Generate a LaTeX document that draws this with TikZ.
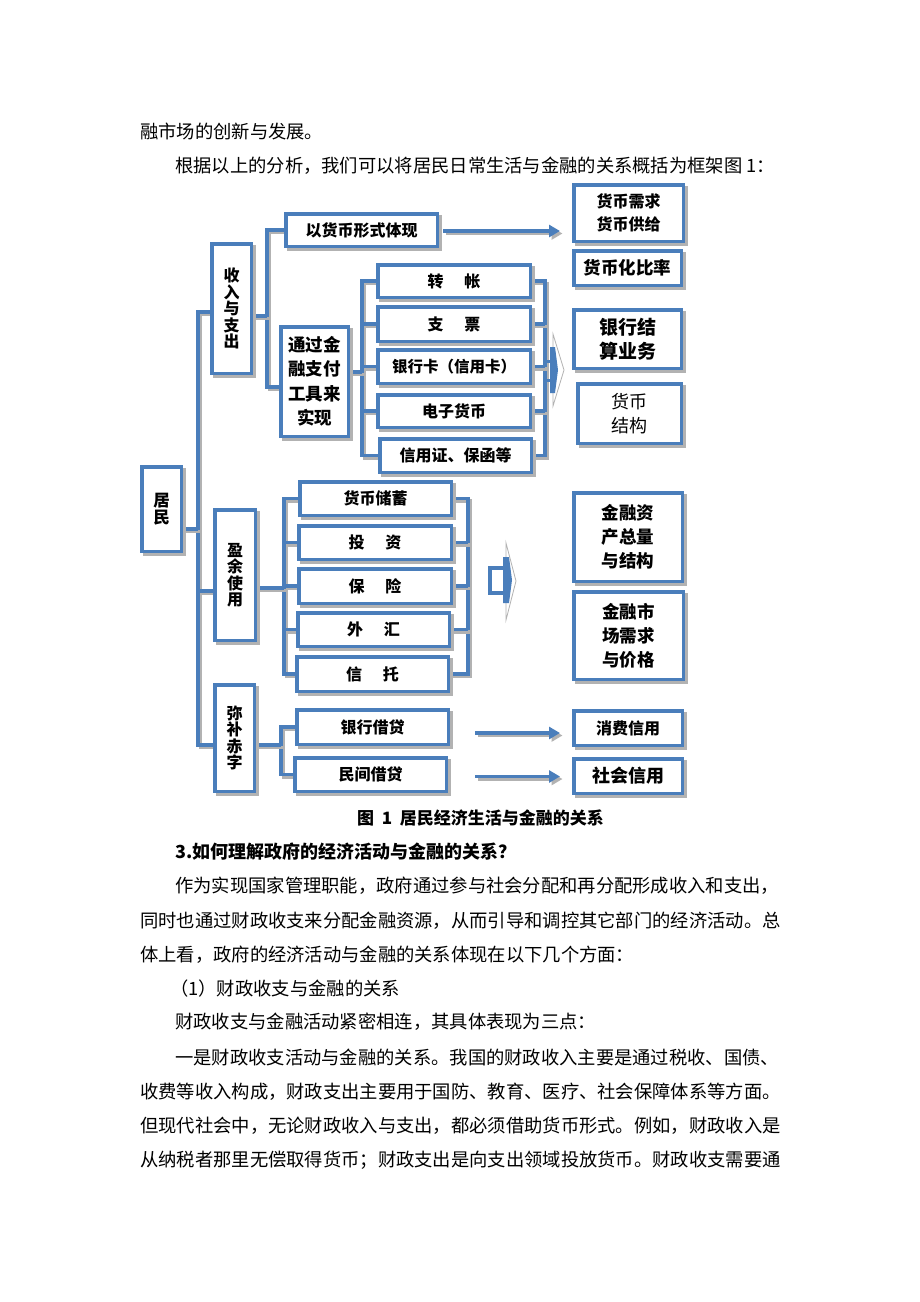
\documentclass[tikz,border=0pt]{standalone}
\usepackage{fontspec}
\setmainfont{Noto Sans CJK SC}
\usetikzlibrary{arrows.meta,calc}
\definecolor{bblue}{RGB}{74,126,187}
\definecolor{shgray}{RGB}{178,178,178}
\pgfdeclarelayer{bg}
\pgfdeclarelayer{paper}
\pgfsetlayers{paper,bg,main}
\tikzset{
  box/.style={draw=bblue, line width=3.5pt, fill=white, inner sep=0pt, align=center,
    font=\bfseries\fontsize{16}{17}\selectfont,
    preaction={draw=shgray, fill=shgray, line width=3.5pt, transform canvas={shift={(3pt,-3pt)}}}},
  conn/.style={draw=bblue, line width=3.5pt, line join=miter,
    preaction={draw=shgray, line width=3.5pt, transform canvas={shift={(2.5pt,-2.5pt)}}}},
  arr/.style={conn, -{Triangle[length=11pt,width=12pt]}},
  body/.style={anchor=west, inner sep=0pt, font=\fontsize{18.3}{20}\selectfont},
  bbody/.style={anchor=west, inner sep=0pt, font=\bfseries\fontsize{18}{20}\selectfont},
  vt/.style={font=\bfseries\fontsize{16}{16.5}\selectfont},
  fs/.style 2 args={font=\bfseries\fontsize{#1}{#2}\selectfont},
}
\newcommand\bx[7][]{%
  \pgfmathsetmacro\bxw{#5-#3-3.5}%
  \pgfmathsetmacro\bxh{#6-#4-3.5}%
  \node[box,#1,minimum width=\bxw pt,minimum height=\bxh pt] (#2) at ({(#3+#5)/2},{(#4+#6)/2}) {#7};}
\begin{document}
\begin{tikzpicture}[x=1pt,y=-1pt]
\begin{pgfonlayer}{paper}
\useasboundingbox[fill=white] (0,0) rectangle (920,1302);
\end{pgfonlayer}

% ---- body text ----
\node[body] (t1) at (140,131) {融市场的创新与发展。};
\node[body] (t2) at (175,166) {根据以上的分析，我们可以将居民日常生活与金融的关系概括为框架图 1：};

% ---- boxes ----
\bx[fs={16.5}{17}]{jm}{140}{465}{183}{553}{居\\民}
\bx[vt]{sr}{210}{242}{253}{375}{收\\入\\与\\支\\出}
\bx{yhb}{284}{212}{439}{248}{以货币形式体现}
\bx[fs={17.5}{24.5}]{tg}{279}{325}{350}{438}{通过金\\融支付\\工具来\\实现}
\bx{zz}{376}{263}{532}{299}{转\hspace{1.3em}帐}
\bx{zp}{376}{305}{532}{343}{支\hspace{1.3em}票}
\bx[fs={15.5}{16}]{yhk}{376}{348}{532}{385}{银行卡（信用卡）}
\bx{dz}{376}{393}{532}{429}{电子货币}
\bx{xyz}{378}{437}{533}{474}{信用证、保函等}
\bx[fs={16}{23}]{hbxq}{572}{183}{685}{243}{货币需求\\货币供给}
\bx[fs={17.5}{18}]{hbh}{572}{249}{683}{287}{货币化比率}
\bx[fs={19}{23.5}]{yhjs}{572}{308}{683}{370}{银行结\\算业务}
\bx[font=\fontsize{18}{24}\selectfont]{hbjg}{576}{382}{683}{445}{货币\\结构}
\bx[vt]{yy}{213}{508}{257}{642}{盈\\余\\使\\用}
\bx{hbcx}{298}{480}{453}{517}{货币储蓄}
\bx{tz}{297}{524}{453}{561}{投\hspace{1.3em}资}
\bx{bx}{297}{567}{453}{605}{保\hspace{1.3em}险}
\bx{wh}{296}{611}{451}{648}{外\hspace{1.3em}汇}
\bx{xt}{295}{655}{450}{693}{信\hspace{1.3em}托}
\bx[fs={17.5}{24}]{jrzc}{572}{491}{684}{583}{金融资\\产总量\\与结构}
\bx[fs={17.5}{24}]{jrsc}{572}{590}{685}{681}{金融市\\场需求\\与价格}
\bx[vt]{mb}{213}{683}{256}{793}{弥\\补\\赤\\字}
\bx{yhjd}{295}{708}{450}{746}{银行借贷}
\bx{mjjd}{293}{756}{448}{793}{民间借贷}
\bx{xfxy}{572}{709}{684}{747}{消费信用}
\bx[fs={18}{19}]{shxy}{572}{757}{684}{795}{社会信用}

% ---- bracket x positions ----
\coordinate (m0) at (198,0);
\coordinate (m1) at (267,0);
\coordinate (m2) at (362,0);
\coordinate (m3) at (545,0);
\coordinate (m4) at (284,0);
\coordinate (m5) at (468,0);
\coordinate (m6) at (281,0);
\coordinate (srin) at ($(sr.west)+(0,3.5)$);
\coordinate (yyin) at ($(yy.west)+(0,16)$);
\coordinate (mbin) at ($(mb.west)+(0,7)$);
\coordinate (jmout) at ($(jm.east)+(0,20)$);
\coordinate (srout) at ($(sr.east)+(0,7.5)$);
\coordinate (tgin) at ($(tg.west)+(0,5.5)$);
\coordinate (tgout) at ($(tg.east)+(0,-9.5)$);
\coordinate (yyout) at ($(yy.east)+(0,13)$);
\coordinate (mbout) at ($(mb.east)+(0,7)$);

\begin{pgfonlayer}{bg}
% main bracket
\draw[conn] (srin) -- (srin -| m0) -- (mbin -| m0) -- (mbin);
\draw[conn] (yyin -| m0) -- (yyin);
\draw[conn] (jmout) -- (jmout -| m0);
% income bracket
\draw[conn] (yhb.west) -- (yhb.west -| m1) -- (tgin -| m1) -- (tgin);
\draw[conn] (srout) -- (srout -| m1);
% payment tools
\draw[conn] (zz.west) -- (zz.west -| m2) -- (xyz.west -| m2) -- (xyz.west);
\draw[conn] (zp.west -| m2) -- (zp.west);
\draw[conn] (yhk.west -| m2) -- (yhk.west);
\draw[conn] (dz.west -| m2) -- (dz.west);
\draw[conn] (tgout) -- (tgout -| m2);
\draw[conn] (zz.east) -- (zz.east -| m3) -- (xyz.east -| m3) -- (xyz.east);
\draw[conn] (zp.east) -- (zp.east -| m3);
\draw[conn] (yhk.east) -- (yhk.east -| m3);
\draw[conn] (dz.east) -- (dz.east -| m3);
% surplus
\draw[conn] (hbcx.west) -- (hbcx.west -| m4) -- (xt.west -| m4) -- (xt.west);
\draw[conn] (tz.west -| m4) -- (tz.west);
\draw[conn] (bx.west -| m4) -- (bx.west);
\draw[conn] (wh.west -| m4) -- (wh.west);
\draw[conn] (yyout) -- (yyout -| m4);
\draw[conn] (hbcx.east) -- (hbcx.east -| m5) -- (xt.east -| m5) -- (xt.east);
\draw[conn] (tz.east) -- (tz.east -| m5);
\draw[conn] (bx.east) -- (bx.east -| m5);
\draw[conn] (wh.east) -- (wh.east -| m5);
% deficit
\draw[conn] (yhjd.west) -- (yhjd.west -| m6) -- (mjjd.west -| m6) -- (mjjd.west);
\draw[conn] (mbout) -- (mbout -| m6);
\end{pgfonlayer}

% arrows
\draw[arr] ($(yhb.east)+(4,1)$) -- ($(yhb.east -| hbxq.west)+(-12,1)$);
\draw[arr] ($(yhjd.east)+(25,6)$) -- ($(yhjd.east -| xfxy.west)+(-12,6)$);
\draw[arr] ($(mjjd.east)+(27,2)$) -- ($(mjjd.east -| shxy.west)+(-12,2)$);

% ---- block arrows ----
\draw[shgray, fill=white, line width=0.8pt] (553,334) -- (564,370) -- (553,406) -- cycle;
\draw[bblue, line width=3pt] (545,361) -- (552,361) (545,380) -- (552,380);
\fill[bblue] (550,347) -- (555,347) -- (558,370) -- (555,393) -- (550,393) -- cycle;

\draw[shgray, fill=white, line width=0.8pt] (506,543) -- (516,581) -- (506,620) -- cycle;
\draw[bblue, line width=4pt, fill=white] (490,568) rectangle (505,593);
\fill[bblue] (503,557) -- (509,557) -- (512,580) -- (509,603) -- (503,603) -- cycle;

% ---- caption and text below ----
\node[anchor=west, inner sep=0pt, font=\bfseries\fontsize{17}{20}\selectfont] (cap) at (357,818) {图\hspace{0.45em}1\hspace{0.45em}居民经济生活与金融的关系};
\node[bbody] (h3) at (175,852) {3.如何理解政府的经济活动与金融的关系？};
\node[body] (p1) at (175,886) {作为实现国家管理职能，政府通过参与社会分配和再分配形成收入和支出，};
\node[body] (p2) at (140,921) {同时也通过财政收支来分配金融资源，从而引导和调控其它部门的经济活动。总};
\node[body] (p3) at (140,955) {体上看，政府的经济活动与金融的关系体现在以下几个方面：};
\node[body] (p4) at (170,989) {（1）财政收支与金融的关系};
\node[body] (p5) at (175,1022) {财政收支与金融活动紧密相连，其具体表现为三点：};
\node[body] (p6) at (175,1057) {一是财政收支活动与金融的关系。我国的财政收入主要是通过税收、国债、};
\node[body] (p7) at (140,1092) {收费等收入构成，财政支出主要用于国防、教育、医疗、社会保障体系等方面。};
\node[body] (p8) at (140,1126) {但现代社会中，无论财政收入与支出，都必须借助货币形式。例如，财政收入是};
\node[body] (p9) at (140,1160) {从纳税者那里无偿取得货币；财政支出是向支出领域投放货币。财政收支需要通};
\end{tikzpicture}
\end{document}
